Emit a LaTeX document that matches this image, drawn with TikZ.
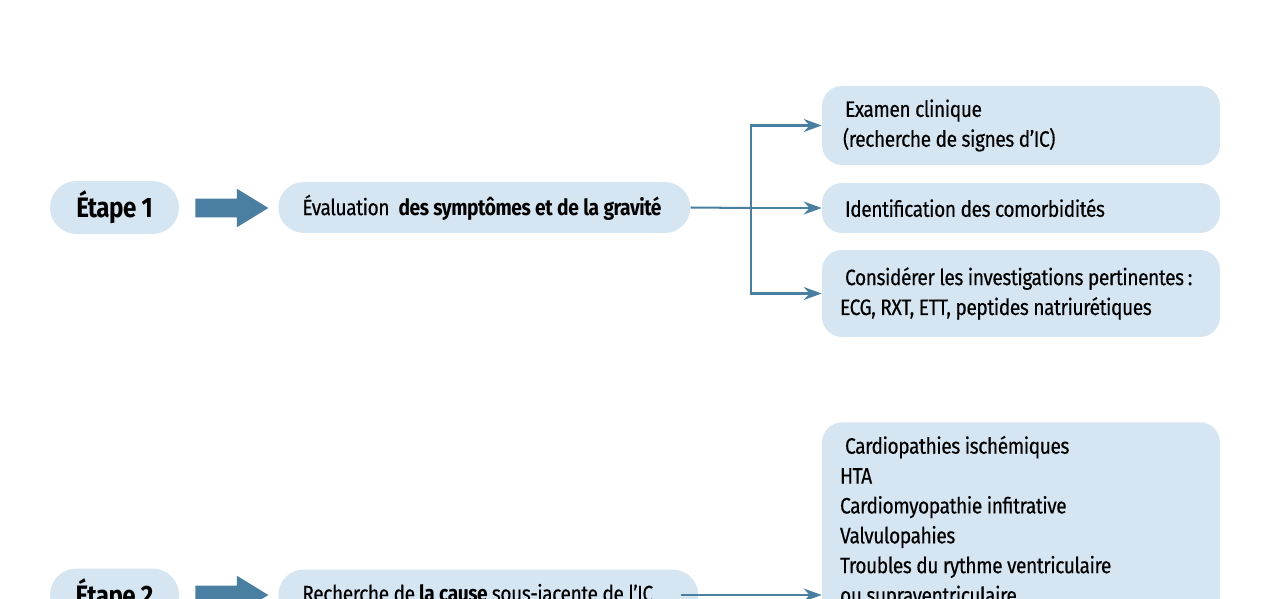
\documentclass[tikz,border=0pt]{standalone}
\usepackage{fontspec}
\setmainfont{Fira Sans}[FakeStretch=0.86, LetterSpace=-2,
  UprightFeatures={FakeBold=0.3}]
\usepackage{tikz}
\usetikzlibrary{shapes.arrows}
\usetikzlibrary{arrows.meta}
\definecolor{paleblue}{HTML}{D5E5F1}
\definecolor{steel}{HTML}{4A7FA2}
\tikzset{
    etape/.style={fill=paleblue, rounded corners=0.53cm, minimum width=2.58cm,
        minimum height=1.06cm, inner sep=0pt, font=\fontsize{16}{18}\selectfont\bfseries},
    pill/.style={fill=paleblue, rounded corners=0.51cm, minimum height=1.02cm,
        text width=7.28cm, inner xsep=0.48cm, inner ysep=0pt, align=left,
        font=\fontsize{12.7}{17}\selectfont,
        execute at begin node={\spaceskip=0.2em plus 0.05em\relax}},
    info/.style={pill, rounded corners=0.4cm, text width=7.24cm,
        inner xsep=0.36cm, inner ysep=0.1cm},
    bigarrow/.style={single arrow, fill=steel, inner xsep=0pt, inner ysep=0.18cm,
        minimum height=1.46cm, single arrow head extend=0.2cm, single arrow tip angle=63,
        anchor=tail},
    branch/.style={draw=steel, line width=1.15pt},
    branch arrow/.style={branch, -{Stealth[length=0.36cm, width=0.26cm]}}
}

\begin{document}
\begin{tikzpicture}[x=0.02cm, y=-0.02cm]
\useasboundingbox (0,0) rectangle (1280,598);
\clip (0,0) rectangle (1280,598);

% etape 1
\node[etape] (etape1) at (114.5,207.5) {Étape 1};
\node[bigarrow] (fleche1) at (195,208) {};
\node[pill, anchor=west] (evaluation) at (278,207.5)
  {\mbox{Évaluation\hspace{0.2em} \textbf{des symptômes et de la gravité}}};

\node[info, minimum height=1.58cm] (examen) at (1021,125.5)
  {\hspace*{0.1cm}Examen clinique\\\hspace*{0.06cm}(recherche de signes d’IC)};
\node[info, minimum height=1cm] (comorb) at (1021,208)
  {\hspace*{0.1cm}Identification des comorbidités};
\node[info, minimum height=1.74cm] (investig) at (1021,293.5)
  {\hspace*{0.1cm}Considérer les investigations pertinentes\,:\\ECG, RXT, ETT, peptides natriurétiques};

\coordinate (split) at (751,208);
\draw[branch] (evaluation.east) -- (split);
\draw[branch arrow] (split) |- (examen.west);
\draw[branch arrow] (split) -- (comorb.west);
\draw[branch arrow] (split) |- (investig.west);

% etape 2
\node[etape] (etape2) at (114.5,595) {Étape 2};
\node[bigarrow] (fleche2) at (195,595) {};
\node[pill, anchor=west, text width=7.44cm] (recherche) at (278,595)
  {\mbox{Recherche de \textbf{la cause} sous-jacente de l’IC}};

\node[info, anchor=north, inner ysep=0.27cm] (causes) at (1021,422)
  {\hspace*{0.1cm}Cardiopathies ischémiques\\HTA\\Cardiomyopathie infitrative\\Valvulopahies\\
   Troubles du rythme ventriculaire\\ou supraventriculaire};

\draw[branch arrow] ([xshift=-0.36cm]recherche.east) -- (recherche.east -| causes.west);
\end{tikzpicture}
\end{document}
